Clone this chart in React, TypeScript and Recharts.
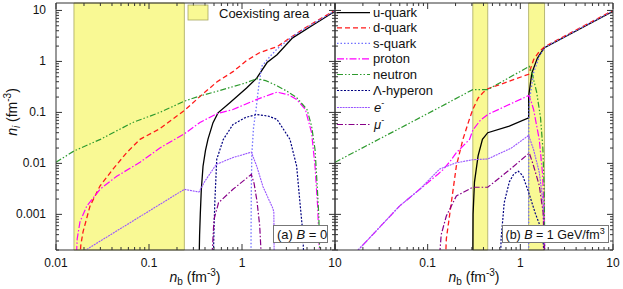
import React from 'react';
import { LineChart, Line, XAxis, YAxis, ReferenceArea } from 'recharts';

type P = [number, number];

// ---------- Panel (a): B = 0 ----------
const uQuarkA: P[] = [[0.345,1e-4],[0.35,4e-4],[0.356,0.001],[0.365,0.003],[0.381,0.0088],[0.405,0.018],[0.431,0.03],[0.488,0.063],[0.552,0.098],[0.74,0.154],[1.12,0.3],[1.44,0.47],[1.86,0.95],[2.38,1.35],[3.5,2.9],[5.8,5.2],[10,9.6]];
const dQuarkA: P[] = [[0.0178,1e-4],[0.0185,2.5e-4],[0.0195,4.5e-4],[0.0232,0.00145],[0.0297,0.0036],[0.041,0.0077],[0.058,0.0165],[0.08,0.0296],[0.131,0.048],[0.24,0.109],[0.353,0.205],[0.54,0.4],[0.8,0.63],[1.13,1.05],[1.56,1.5],[2.38,1.94],[3.28,2.9],[5.0,4.8],[6.9,6.8],[10,10]];
const sQuarkA: P[] = [[1.25,1e-4],[1.252,0.0005],[1.26,0.003],[1.275,0.015],[1.33,0.05],[1.42,0.12],[1.52,0.35],[1.63,0.8],[2.0,1.25],[2.38,1.75],[3.5,3.1],[5.8,5.5],[10,9.8]];
const protonA: P[] = [[0.0164,1e-4],[0.0169,3.3e-4],[0.0181,7.1e-4],[0.0214,0.00145],[0.0297,0.0031],[0.045,0.0056],[0.08,0.0105],[0.131,0.02],[0.24,0.038],[0.353,0.0635],[0.54,0.095],[0.8,0.114],[1.45,0.18],[2.38,0.25],[3.2,0.22],[3.87,0.18],[4.8,0.114],[5.6,0.04],[6.1,0.0088],[6.5,0.00146],[6.9,1e-4]];
const neutronA: P[] = [[0.01,0.0105],[0.0156,0.0175],[0.03,0.0296],[0.067,0.0635],[0.131,0.1],[0.24,0.166],[0.353,0.21],[0.54,0.26],[0.8,0.32],[1.1,0.38],[1.45,0.46],[1.8,0.42],[2.4,0.33],[3.05,0.26],[3.87,0.195],[5.0,0.114],[5.6,0.054],[6.1,0.0186],[6.4,0.0043],[6.7,0.00093],[6.9,1e-4]];
const lambdaA: P[] = [[0.49,1e-4],[0.5,0.0005],[0.51,0.0017],[0.535,0.012],[0.63,0.0296],[0.8,0.058],[1.1,0.08],[1.44,0.091],[1.9,0.085],[2.38,0.073],[3.28,0.0296],[3.87,0.0088],[4.2,0.0017],[4.5,4.5e-4],[4.65,1e-4]];
const electronA: P[] = [[0.019,1.8e-4],[0.24,0.0031],[0.345,0.00275],[0.4,0.0045],[0.53,0.0096],[0.8,0.013],[1.26,0.0166],[1.45,0.0085],[1.68,0.0035],[2.15,0.0013],[2.2,0.0011],[2.22,1e-4]];
const muonA: P[] = [[0.47,1e-4],[0.5,8e-4],[0.56,0.0017],[0.8,0.0031],[1.26,0.0061],[1.35,0.004],[1.45,0.0018],[1.55,0.0006],[1.63,1e-4]];

// ---------- Panel (b): B = 1 GeV/fm^3 ----------
const uQuarkB: P[] = [[0.307,1e-4],[0.309,0.001],[0.32,0.0043],[0.35,0.014],[0.39,0.0296],[0.445,0.04],[0.76,0.054],[1.23,0.0785],[1.231,0.21],[1.33,0.59],[1.53,1.16],[1.8,1.83],[10,9.6]];
const dQuarkB: P[] = [[0.155,1e-4],[0.159,3.3e-4],[0.18,0.0017],[0.204,0.0089],[0.24,0.0296],[0.283,0.075],[0.307,0.114],[0.35,0.19],[0.4,0.25],[0.445,0.29],[1.23,0.56],[1.39,1.08],[1.6,1.57],[1.84,1.96],[10,10]];
const sQuarkB: P[] = [[1.23,1e-4],[1.232,0.05],[1.24,0.12],[1.27,0.2],[1.39,0.6],[1.6,1.25],[1.84,1.9],[10,9.8]];
const protonB: P[] = [[0.016,1.67e-4],[0.0178,2e-4],[0.05,0.00147],[0.082,0.0031],[0.13,0.0062],[0.146,0.0075],[0.175,0.011],[0.204,0.0162],[0.283,0.0296],[0.307,0.045],[0.37,0.07],[0.445,0.091],[1.23,0.214],[1.3,0.17],[1.39,0.114],[1.6,0.0296],[1.73,0.0067],[1.8,0.0014],[1.84,1e-4]];
const neutronB: P[] = [[0.01,0.0105],[0.097,0.092],[0.307,0.28],[0.445,0.28],[1.25,0.8],[1.35,0.55],[1.5,0.25],[1.65,0.08],[1.75,0.02],[1.81,0.003],[1.84,1e-4]];
const lambdaB: P[] = [[0.61,1e-4],[0.62,3.3e-4],[0.67,0.0017],[0.76,0.0043],[0.85,0.0062],[0.95,0.007],[1.06,0.0058],[1.23,0.0027],[1.45,0.00105],[1.73,4.5e-4],[1.84,1e-4]];
const electronB: P[] = [[0.016,1.67e-4],[0.0178,2e-4],[0.05,0.00147],[0.082,0.0031],[0.134,0.0077],[0.2,0.0102],[0.307,0.0118],[0.445,0.0122],[0.8,0.02],[1.23,0.0354],[1.39,0.0186],[1.6,0.0067],[1.76,0.0017],[1.84,1e-4]];
const muonB: P[] = [[0.132,1e-4],[0.14,4e-4],[0.159,9.3e-4],[0.204,0.0023],[0.307,0.0034],[0.445,0.0034],[0.8,0.008],[1.25,0.016],[1.39,0.0089],[1.6,0.0037],[1.76,0.0011],[1.84,1e-4]];

// coexisting areas (n_b ranges)
const coexistA: P[] = [[0.0156, 0.24]];
const coexistB: P[] = [[0.307, 0.445], [1.228, 1.825]];

// axis tick labels
const xTickLabels = [0.01, 0.1, 1, 10];
const yTickLabels = [0.001, 0.01, 0.1, 1, 10];
const X_DOMAIN: [number, number] = [0.01, 10];
const Y_DOMAIN: [number, number] = [0.0002, 14];

const seriesNames = ['u-quark', 'd-quark', 's-quark', 'proton', 'neutron', '\u039B-hyperon', 'e', '\u03BC'];

const FONT = '"Liberation Sans", Arial, Helvetica, sans-serif';
const AX = '#333';
const BAND_FILL = '#f0f000';
const BAND_OPACITY = 0.42;
const BAND_STROKE = '#a8a860';

type Style = { color: string; dash?: string; width: number };
const styles: Style[] = [
  { color: '#000000', width: 1.3 },
  { color: '#ff1a1a', dash: '5 3', width: 1.3 },
  { color: '#7070ff', dash: '1.5 2', width: 1.3 },
  { color: '#ff00ff', dash: '7 2 1.5 2', width: 1.2 },
  { color: '#2e9a2e', dash: '6 2 1.5 2 1.5 2', width: 1.2 },
  { color: '#000080', dash: '2 1.5', width: 1.2 },
  { color: '#9955ff', dash: '2 0.8', width: 1.1 },
  { color: '#880088', dash: '6 2 1.5 2', width: 1.2 },
];

const seriesA: P[][] = [uQuarkA, dQuarkA, sQuarkA, protonA, neutronA, lambdaA, electronA, muonA];
const seriesB: P[][] = [uQuarkB, dQuarkB, sQuarkB, protonB, neutronB, lambdaB, electronB, muonB];

function logTicks(lo: number, hi: number): number[] {
  const out: number[] = [];
  let dec = Math.pow(10, Math.floor(Math.log10(lo) + 1e-9));
  while (dec <= hi * 1.0000001) {
    for (let m = 1; m <= 9; m++) {
      const v = +(dec * m).toPrecision(6);
      if (v >= lo * (1 - 1e-9) && v <= hi * (1 + 1e-9)) out.push(v);
    }
    dec *= 10;
  }
  return out;
}
const xTicksAll = logTicks(X_DOMAIN[0], X_DOMAIN[1]);
const yTicksAll = logTicks(Y_DOMAIN[0], Y_DOMAIN[1]);

const isIn = (arr: number[], v: number) => arr.some((a) => Math.abs(a - v) / a < 1e-6);

const tickRenderer = (orient: 'bottom' | 'top' | 'left' | 'right', majors: number[], labels: number[]) => (p: any) => {
  const { x, y, payload } = p;
  const v = payload.value as number;
  const maj = isIn(majors, v);
  const len = maj ? 6 : 3;
  let x2 = x, y2 = y;
  if (orient === 'bottom') y2 = y - len;
  if (orient === 'top') y2 = y + len;
  if (orient === 'left') x2 = x + len;
  if (orient === 'right') x2 = x - len;
  const show = maj && isIn(labels, v);
  return (
    <g>
      <line x1={x} y1={y} x2={x2} y2={y2} stroke={AX} strokeWidth={1} />
      {show && orient === 'bottom' && (
        <text x={x} y={y + 17} textAnchor="middle" fontSize={12} fill="#111" fontFamily={FONT}>{String(v)}</text>
      )}
      {show && orient === 'left' && (
        <text x={x - 10} y={y + 4} textAnchor="end" fontSize={12} fill="#111" fontFamily={FONT}>{String(v)}</text>
      )}
    </g>
  );
};

const toData = (arr: P[]) => arr.map(([x, y]) => ({ x, y }));

function Panel({ left, right, series, bands, xLabels, yLabels }: { left: number; right: number; series: P[][]; bands: P[]; xLabels: number[]; yLabels: number[] }) {
  return (
    <LineChart width={623} height={289} margin={{ top: 2, right: right - 1, bottom: 38, left: left - 1 }}>
      <XAxis xAxisId="b" dataKey="x" type="number" scale="log" domain={X_DOMAIN} allowDataOverflow ticks={xTicksAll} interval={0}
        orientation="bottom" height={1} tickSize={0} tickMargin={0} tickLine={false} axisLine={{ stroke: AX, strokeWidth: 1 }}
        tick={tickRenderer('bottom', xTickLabels, xLabels)} />
      <XAxis xAxisId="t" dataKey="x" type="number" scale="log" domain={X_DOMAIN} allowDataOverflow ticks={xTicksAll} interval={0}
        orientation="top" height={1} tickSize={0} tickMargin={0} tickLine={false} axisLine={{ stroke: AX, strokeWidth: 1 }}
        tick={tickRenderer('top', xTickLabels, [])} />
      <YAxis yAxisId="l" dataKey="y" type="number" scale="log" domain={Y_DOMAIN} allowDataOverflow ticks={yTicksAll} interval={0}
        orientation="left" width={1} tickSize={0} tickMargin={0} tickLine={false} axisLine={{ stroke: AX, strokeWidth: 1 }}
        tick={tickRenderer('left', yTickLabels, yLabels)} />
      <YAxis yAxisId="r" dataKey="y" type="number" scale="log" domain={Y_DOMAIN} allowDataOverflow ticks={yTicksAll} interval={0}
        orientation="right" width={1} tickSize={0} tickMargin={0} tickLine={false} axisLine={{ stroke: AX, strokeWidth: 1 }}
        tick={tickRenderer('right', yTickLabels, [])} />
      {series.map((s, i) => (
        <Line key={seriesNames[i]} name={seriesNames[i]} xAxisId="b" yAxisId="l" data={toData(s)} dataKey="y" type="linear"
          stroke={styles[i].color} strokeWidth={styles[i].width} strokeDasharray={styles[i].dash} dot={false} activeDot={false}
          isAnimationActive={false} />
      ))}
      {bands.map(([a, b], i) => (
        <ReferenceArea key={'band' + i} xAxisId="b" yAxisId="l" x1={a} x2={b} fill={BAND_FILL} fillOpacity={BAND_OPACITY}
          stroke={BAND_STROKE} strokeWidth={0.8} ifOverflow="visible" />
      ))}
    </LineChart>
  );
}

function Overlay() {
  const rows = [12.7, 27.8, 43.3, 58.8, 74.5, 90.5, 107.5, 124.5];
  return (
    <svg width={623} height={289} style={{ position: 'absolute', left: 0, top: 0, pointerEvents: 'none' }} fontFamily={FONT}>
      <rect x={188} y={5} width={20} height={15} fill={BAND_FILL} fillOpacity={BAND_OPACITY} stroke={BAND_STROKE} strokeWidth={0.8} />
      <text x={219} y={18} fontSize={13} fill="#111">Coexisting area</text>
      {rows.map((ry, i) => (
        <g key={i}>
          <line x1={337} x2={370} y1={ry} y2={ry} stroke={styles[i].color} strokeWidth={styles[i].width} strokeDasharray={styles[i].dash} />
          {i < 6 ? (
            <text x={373} y={ry + 4.5} fontSize={13} fill="#111">{seriesNames[i]}</text>
          ) : (
            <text x={374} y={ry + 4.5} fontSize={13} fill="#111">
              <tspan fontStyle="italic">{seriesNames[i]}</tspan>
              <tspan fontSize={9} dy={-6}>-</tspan>
            </text>
          )}
        </g>
      ))}
      <rect x={273.5} y={225.5} width={54} height={17} fill="#fff" stroke="#777" strokeWidth={1} />
      <text x={277} y={238.5} fontSize={13} fill="#111">(a) <tspan fontStyle="italic">B</tspan> = 0</text>
      <rect x={502.5} y={225.5} width={106} height={17} fill="#fff" stroke="#777" strokeWidth={1} />
      <text x={505.5} y={238.5} fontSize={12.5} fill="#111">(b) <tspan fontStyle="italic">B</tspan> = 1 GeV/fm<tspan fontSize={9} dy={-5}>3</tspan></text>
      <text x={195} y={282} fontSize={14} textAnchor="middle" fill="#111">
        <tspan fontStyle="italic">n</tspan><tspan fontSize={10} dy={3}>b</tspan><tspan dy={-3}> (fm</tspan><tspan fontSize={10} dy={-6}>-3</tspan><tspan dy={6}>)</tspan>
      </text>
      <text x={474} y={282} fontSize={14} textAnchor="middle" fill="#111">
        <tspan fontStyle="italic">n</tspan><tspan fontSize={10} dy={3}>b</tspan><tspan dy={-3}> (fm</tspan><tspan fontSize={10} dy={-6}>-3</tspan><tspan dy={6}>)</tspan>
      </text>
      <text x={0} y={0} fontSize={14} textAnchor="middle" fill="#111" transform="translate(17,112) rotate(-90)">
        <tspan fontStyle="italic">n</tspan><tspan fontSize={10} fontStyle="italic" dy={3}>i</tspan><tspan dy={-3}> (fm</tspan><tspan fontSize={10} dy={-6}>-3</tspan><tspan dy={6}>)</tspan>
      </text>
    </svg>
  );
}

export default function App() {
  return (
    <div style={{ position: 'absolute', left: 0, top: 0, width: 623, height: 289, background: '#fff', overflow: 'hidden' }}>
      <div style={{ position: 'absolute', left: 0, top: 0 }}>
        <Panel left={56} right={288} series={seriesA} bands={coexistA} xLabels={[0.01, 0.1, 1, 10]} yLabels={yTickLabels} />
      </div>
      <div style={{ position: 'absolute', left: 0, top: 0 }}>
        <Panel left={335} right={10} series={seriesB} bands={coexistB} xLabels={[0.1, 1, 10]} yLabels={[]} />
      </div>
      <Overlay />
    </div>
  );
}
